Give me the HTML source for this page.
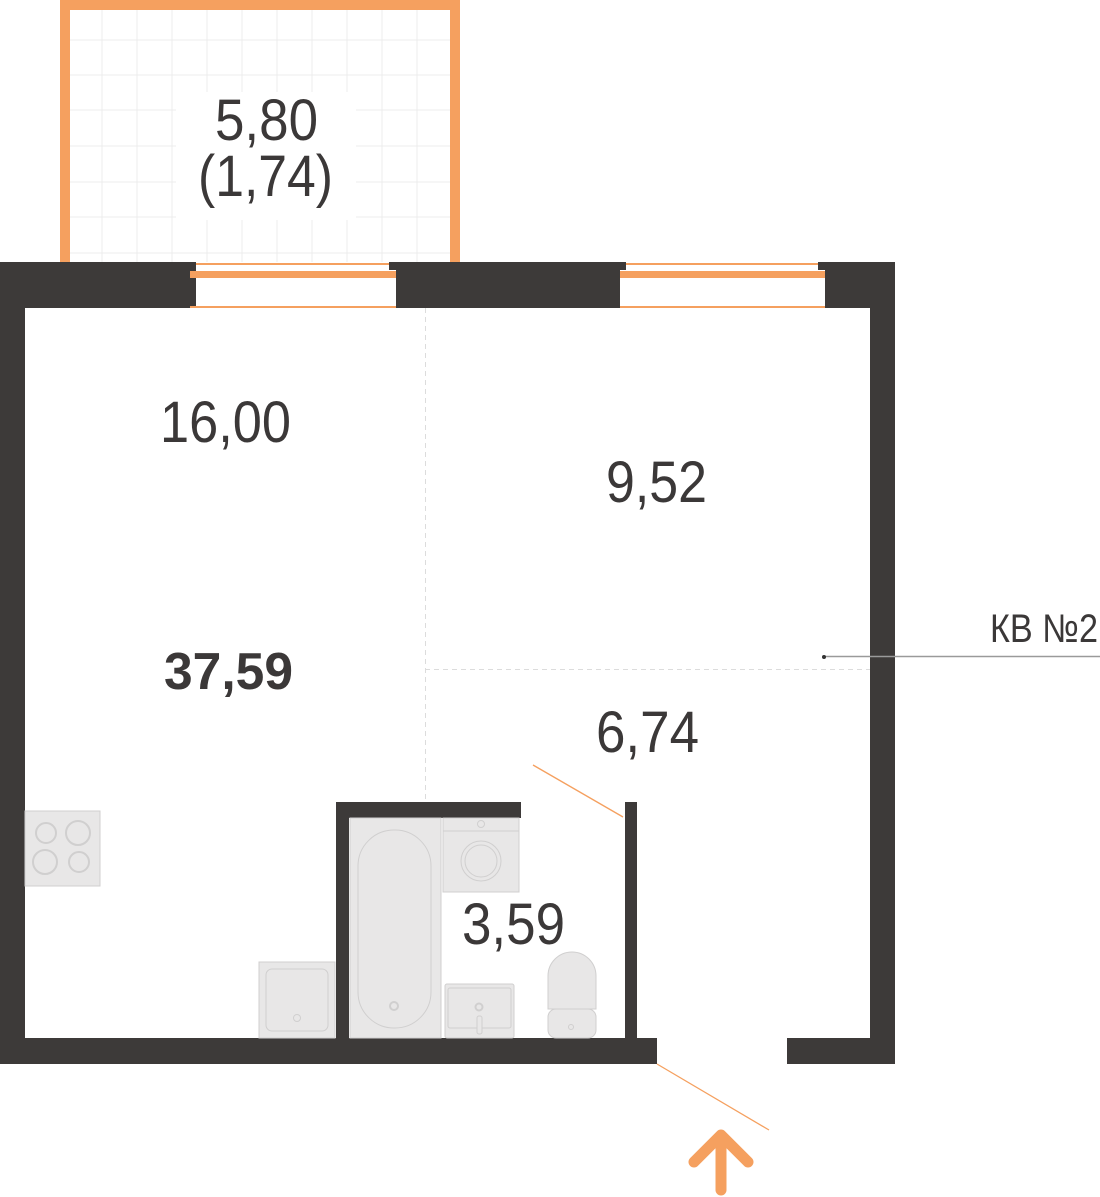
<!DOCTYPE html>
<html><head><meta charset="utf-8"><style>
html,body{margin:0;padding:0;background:#fff;width:1100px;height:1197px;overflow:hidden}
svg{display:block}
text{font-family:"Liberation Sans Narrow","Liberation Sans",sans-serif;fill:#3b3838}
</style></head><body>
<svg width="1100" height="1197" viewBox="0 0 1100 1197" xmlns="http://www.w3.org/2000/svg">
<g stroke="#ececec" stroke-width="1">
<line x1="102" y1="10" x2="102" y2="262"/><line x1="137" y1="10" x2="137" y2="262"/><line x1="172" y1="10" x2="172" y2="262"/><line x1="207" y1="10" x2="207" y2="262"/><line x1="242" y1="10" x2="242" y2="262"/><line x1="277" y1="10" x2="277" y2="262"/><line x1="312" y1="10" x2="312" y2="262"/><line x1="347" y1="10" x2="347" y2="262"/><line x1="382" y1="10" x2="382" y2="262"/><line x1="417" y1="10" x2="417" y2="262"/>
<line x1="70" y1="40" x2="450" y2="40"/><line x1="70" y1="75" x2="450" y2="75"/><line x1="70" y1="110" x2="450" y2="110"/><line x1="70" y1="146" x2="450" y2="146"/><line x1="70" y1="182" x2="450" y2="182"/><line x1="70" y1="217" x2="450" y2="217"/><line x1="70" y1="253" x2="450" y2="253"/>
</g>
<rect x="176" y="92" width="180" height="128" fill="#fff"/>
<path d="M65 262 V5 H455 V262" fill="none" stroke="#f5a05f" stroke-width="10"/>
<g fill="#3d3a39">
<rect x="0" y="262" width="196" height="46"/>
<rect x="389" y="262" width="237" height="8"/>
<rect x="396" y="262" width="224" height="46"/>
<rect x="818" y="262" width="77" height="8"/>
<rect x="825" y="262" width="70" height="46"/>
<rect x="0" y="262" width="25" height="802"/>
<rect x="870" y="262" width="25" height="802"/>
<rect x="0" y="1038" width="657" height="26"/>
<rect x="787" y="1038" width="108" height="26"/>
<rect x="336" y="802" width="185" height="16"/>
<rect x="336" y="802" width="13" height="236"/>
<rect x="625" y="802" width="12" height="236"/>
</g>
<g fill="#f5a05f">
<rect x="196" y="263" width="193" height="2"/><rect x="190" y="271" width="206" height="7"/><rect x="190" y="306" width="206" height="2"/>
<rect x="626" y="263" width="192" height="2"/><rect x="620" y="271" width="205" height="7"/><rect x="620" y="306" width="205" height="2"/>
</g>
<g stroke="#dcdcdc" stroke-width="1" stroke-dasharray="5,4">
<line x1="425.5" y1="308" x2="425.5" y2="802"/>
<line x1="425" y1="669.5" x2="870" y2="669.5"/>
</g>
<line x1="824" y1="656.5" x2="1100" y2="656.5" stroke="#9a9a9a" stroke-width="1.5"/>
<circle cx="824" cy="657" r="2" fill="#333"/>
<g stroke="#f5a05f" stroke-width="1.3">
<line x1="533" y1="765" x2="623" y2="817"/>
<line x1="657" y1="1064" x2="769" y2="1130"/>
</g>
<g stroke="#f5a05f" stroke-width="11" stroke-linecap="round" stroke-linejoin="round" fill="none">
<line x1="721" y1="1138" x2="721" y2="1190"/>
<polyline points="694,1162 721,1135 748,1162"/>
</g>
<g fill="#e8e7e7" stroke="#d0cfcf" stroke-width="1">
<rect x="25" y="811" width="75" height="75"/>
<circle cx="46" cy="833" r="10" fill="none" stroke-width="2"/><circle cx="78" cy="833" r="12" fill="none" stroke-width="2"/>
<circle cx="45" cy="862" r="12" fill="none" stroke-width="2"/><circle cx="79" cy="862" r="10" fill="none" stroke-width="2"/>
<rect x="259" y="962" width="76" height="76"/>
<rect x="266" y="969" width="62" height="62" rx="6"/>
<circle cx="297" cy="1018" r="3.5" fill="none"/>
<rect x="350" y="818" width="91" height="220"/>
<rect x="358" y="830" width="73" height="198" rx="36"/>
<circle cx="394" cy="1006" r="4" fill="none" stroke-width="2"/>
<rect x="443" y="818" width="76" height="74"/>
<line x1="443" y1="831" x2="519" y2="831"/>
<circle cx="481" cy="824" r="3.5" fill="none"/>
<circle cx="481" cy="861" r="20" fill="none"/><circle cx="481" cy="861" r="16" fill="none"/>
<rect x="445" y="984" width="69" height="54" rx="2"/>
<rect x="448" y="988" width="63" height="40" rx="2"/>
<circle cx="479" cy="1007" r="3.5" fill="none" stroke-width="2"/>
<rect x="477" y="1016" width="5" height="18" rx="2"/>
<path d="M548 1009 V976 a24 24 0 0 1 48 0 V1009 Z"/>
<rect x="548" y="1009" width="48" height="29" rx="8"/>
<circle cx="571" cy="1027" r="2.5" fill="none"/>
</g>
<g font-size="58" lengthAdjust="spacingAndGlyphs">
<text x="215" y="140" textLength="103" lengthAdjust="spacingAndGlyphs">5,80</text>
<text x="198" y="196" textLength="135" lengthAdjust="spacingAndGlyphs">(1,74)</text>
<text x="160" y="442" textLength="131" lengthAdjust="spacingAndGlyphs">16,00</text>
<text x="606" y="502" textLength="101" lengthAdjust="spacingAndGlyphs">9,52</text>
<text x="596" y="752" textLength="103" lengthAdjust="spacingAndGlyphs">6,74</text>
<text x="462" y="944" textLength="103" lengthAdjust="spacingAndGlyphs">3,59</text>
</g>
<text x="164" y="689" font-size="52" font-weight="bold" textLength="129" lengthAdjust="spacingAndGlyphs" style="font-family:'Liberation Sans',sans-serif">37,59</text>
<text x="990" y="642" font-size="40" textLength="108" lengthAdjust="spacingAndGlyphs">КВ №2</text>
</svg>
</body></html>
